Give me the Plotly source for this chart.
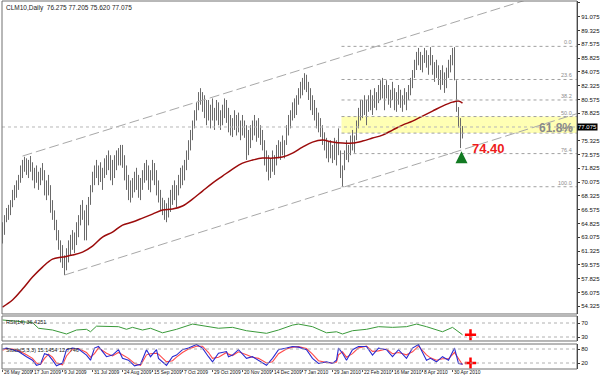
import plotly.graph_objects as go

title_text = "CLM10,Daily  76.275 77.205 75.620 77.075"

highs = [
    65.0, 65.9, 66.8, 67.2, 67.8, 69.1, 69.7, 70.3, 71.0, 72.2,
    72.9, 73.3, 73.1, 72.9, 73.4, 72.6, 71.9, 72.2, 71.4, 71.9,
    72.5, 71.6, 70.3, 71.0, 69.7, 67.8, 66.5, 65.3, 64.0, 62.7,
    62.1, 60.8, 61.7, 62.7, 63.4, 64.0, 63.7, 65.0, 65.9, 67.2,
    67.8, 66.5, 67.2, 68.2, 69.7, 71.4, 72.2, 72.9, 72.2, 72.6,
    71.9, 73.1, 73.5, 74.1, 73.5, 72.9, 73.5, 74.1, 74.4, 74.8,
    74.8, 73.5, 72.2, 71.0, 70.3, 70.6, 71.4, 71.9, 71.0, 70.6,
    71.6, 72.5, 72.9, 72.2, 71.6, 72.9, 72.5, 71.6, 70.3, 69.1,
    68.1, 67.8, 67.4, 68.1, 69.1, 69.7, 70.3, 69.7, 71.0, 71.9,
    72.2, 72.9, 74.1, 75.4, 76.7, 77.9, 79.2, 80.2, 81.5, 82.0,
    81.5, 81.1, 80.5, 80.5, 79.9, 80.7, 79.5, 80.5, 80.2, 79.2,
    79.9, 80.7, 80.5, 79.5, 78.6, 78.2, 79.2, 78.6, 78.9, 77.9,
    78.6, 77.9, 77.3, 76.7, 77.3, 77.9, 78.6, 77.9, 78.2, 77.3,
    76.7, 75.4, 74.1, 73.5, 73.1, 74.1, 73.5, 74.8, 75.4, 75.2,
    76.0, 75.4, 77.3, 78.6, 79.2, 80.2, 80.7, 81.1, 82.0, 82.8,
    83.3, 83.9, 83.7, 82.8, 82.0, 81.1, 80.5, 79.5, 78.9, 78.2,
    77.3, 76.4, 75.7, 75.2, 75.4, 74.8, 75.7, 75.4, 76.9, 74.1,
    72.2, 74.1, 75.4, 74.8, 76.0, 76.7, 76.0, 77.9, 79.5, 80.5,
    80.5, 81.1, 80.5, 81.1, 81.8, 81.1, 82.0, 81.5, 82.4, 83.0,
    83.3, 82.4, 83.0, 82.4, 81.8, 82.8, 82.0, 81.5, 82.4, 81.8,
    81.1, 82.0, 81.5, 82.4, 83.3, 84.3, 85.6, 86.6, 87.1, 86.6,
    86.2, 87.1, 86.8, 86.2, 87.2, 86.2, 85.3, 85.6, 84.9, 84.3,
    84.9, 84.0, 84.6, 85.6, 86.2, 87.1, 87.2, 83.0, 79.6, 78.2,
    77.205,
]
lows = [
    62.3, 63.4, 65.0, 65.3, 65.9, 66.9, 67.8, 68.1, 69.1, 70.0,
    70.6, 71.4, 71.0, 70.6, 71.4, 70.3, 69.3, 70.0, 69.1, 69.7,
    70.3, 68.4, 67.8, 68.4, 66.2, 65.3, 64.0, 62.7, 61.5, 59.9,
    59.2, 58.3, 58.9, 59.9, 60.8, 61.5, 61.1, 62.1, 63.1, 64.6,
    65.3, 62.7, 62.7, 64.6, 67.2, 68.8, 69.7, 70.6, 69.7, 70.1,
    69.1, 70.6, 71.0, 71.6, 70.3, 69.7, 70.6, 71.6, 72.2, 72.2,
    71.9, 70.3, 69.1, 67.8, 67.5, 68.1, 68.8, 69.1, 68.1, 67.8,
    69.1, 70.0, 70.3, 69.1, 68.8, 70.3, 69.7, 68.4, 67.5, 66.5,
    65.9, 65.3, 65.0, 65.6, 66.3, 67.2, 67.8, 66.9, 68.4, 69.3,
    69.7, 70.3, 71.6, 72.9, 74.1, 75.4, 76.9, 77.9, 79.2, 79.9,
    79.0, 78.2, 77.3, 77.9, 76.9, 77.9, 76.7, 77.9, 77.3, 76.7,
    77.3, 78.2, 77.6, 76.4, 76.0, 75.8, 76.7, 76.0, 76.4, 75.4,
    76.0, 75.7, 72.9, 73.5, 74.4, 75.4, 76.0, 75.2, 75.7, 74.8,
    74.1, 72.2, 71.4, 70.3, 70.6, 71.4, 71.0, 72.2, 73.1, 72.9,
    73.5, 73.1, 74.8, 76.0, 76.9, 77.9, 78.2, 78.6, 79.9, 80.7,
    81.1, 81.8, 81.5, 80.5, 79.2, 78.6, 77.9, 76.9, 76.4, 75.8,
    74.8, 74.1, 73.1, 72.6, 73.1, 72.5, 72.9, 72.2, 73.5, 70.6,
    69.5, 71.6, 72.9, 72.6, 73.5, 74.1, 73.8, 75.4, 76.9, 77.9,
    78.2, 78.6, 77.3, 79.0, 79.2, 78.6, 79.5, 79.2, 80.1, 80.5,
    80.7, 79.2, 80.7, 79.9, 79.5, 80.5, 79.2, 79.0, 79.9, 79.5,
    79.0, 79.9, 79.2, 80.5, 81.1, 82.0, 83.3, 84.3, 84.9, 84.3,
    84.0, 85.2, 84.6, 83.7, 84.9, 83.7, 82.8, 83.3, 82.4, 81.8,
    82.4, 81.4, 82.0, 83.3, 84.0, 84.9, 83.0, 79.0, 77.0, 74.40,
    75.62,
]

ma_idx = [0, 5, 10, 15, 20, 25, 30, 35, 40, 45, 50, 55, 60, 65, 70, 75, 80, 85,
          90, 95, 100, 105, 110, 115, 120, 125, 130, 135, 140, 145, 150, 155,
          160, 165, 170, 175, 180, 185, 190, 195, 200, 205, 210, 215, 220, 225,
          228, 230]
ma_val = [54.24, 55.13, 56.52, 58.04, 59.31, 60.32, 60.58, 60.83, 61.21, 61.97,
          63.11, 63.75, 64.64, 65.02, 65.52, 66.03, 66.54, 66.67, 67.05, 67.93,
          68.95, 69.96, 70.85, 71.74, 72.50, 72.88, 73.13, 73.13, 73.26, 73.77,
          74.53, 75.16, 75.41, 75.16, 75.03, 75.03, 75.29, 75.67, 76.05, 76.68,
          77.32, 77.82, 78.46, 79.09, 79.73, 80.23, 80.36, 80.11]

rsi_idx = [0, 8, 15, 18, 25, 32, 37, 42, 44, 47, 54, 58, 62, 65, 70, 74, 80, 87,
           95, 102, 108, 115, 122, 132, 138, 145, 148, 155, 162, 167, 170, 175,
           182, 188, 195, 202, 207, 212, 217, 220, 225, 230]
rsi_val = [78.6, 75, 71, 55, 50, 38.6, 50, 52, 45, 61, 61, 59.5, 52, 57.6, 50, 55,
           42, 52, 67, 61, 55, 57.6, 48, 40.5, 50, 64, 67, 59.5, 42, 45, 38.6, 48,
           52, 59.5, 57.6, 59.5, 67, 59.5, 50, 45, 57.6, 36.4251]

stoch_idx = [0, 2, 5, 8, 12, 15, 17, 19, 21, 23, 25, 27, 30, 32, 35, 38, 42, 44, 46,
             48, 52, 55, 58, 60, 63, 66, 69, 72, 74, 77, 78, 82, 85, 87, 90, 93, 97,
             100, 103, 105, 108, 112, 113, 115, 118, 122, 125, 128, 132, 135, 138,
             142, 145, 148, 152, 155, 158, 162, 165, 167, 168, 170, 172, 175, 178,
             182, 185, 188, 192, 195, 198, 202, 205, 208, 212, 214, 217, 220, 223,
             226, 228, 230]
stoch_k = [80, 84, 77, 69, 47, 32, 10, 15, 60, 54, 32, 8, 20, 77, 84, 80, 54, 32, 84,
           91, 47, 54, 77, 40, 32, 8, 15, 77, 47, 77, 40, 10, 47, 54, 77, 84, 99,
           84, 47, 25, 62, 69, 47, 54, 77, 40, 47, 32, 10, 40, 77,
           84, 91, 88, 77, 40, 18, 25, 18, 32, 84, 62, 32, 77, 91,
           91, 54, 84, 77, 47, 77, 40, 84, 99, 32, 40, 25, 47, 32,
           84, 18, 15.1454]
stoch_d = [75, 82, 80, 74, 55, 40, 20, 14, 40, 58, 45, 20, 12, 50, 80, 82, 65, 45, 60,
           85, 62, 50, 65, 55, 40, 18, 10, 55, 60, 62, 58, 25, 30, 45, 65, 80, 92,
           92, 65, 40, 45, 65, 58, 52, 68, 55, 45, 40, 20, 25, 60,
           80, 88, 90, 82, 58, 30, 22, 20, 24, 55, 68, 45, 60, 85,
           92, 70, 72, 80, 60, 65, 55, 68, 92, 55, 42, 32, 38, 38,
           65, 40, 12.7746]

date_idx = [0, 15, 30, 45, 60, 75, 90, 105, 120, 135, 150, 165, 180, 195, 210, 225]
date_labels = ["26 May 2009", "17 Jun 2009", "9 Jul 2009", "31 Jul 2009",
               "24 Aug 2009", "15 Sep 2009", "7 Oct 2009", "29 Oct 2009",
               "20 Nov 2009", "14 Dec 2009", "7 Jan 2010", "29 Jan 2010",
               "22 Feb 2010", "16 Mar 2010", "8 Apr 2010", "30 Apr 2010"]

price_ticks = [92.825, 91.075, 89.325, 87.575, 85.825, 84.075, 82.325, 80.575,
               78.825, 75.325, 73.575, 71.825, 70.075, 68.325, 66.575, 64.825,
               63.075, 61.325, 59.575, 57.825, 56.075, 54.325]
last_close = 77.075
low_mark = 74.40
low_mark_idx = 229
fib_high = 87.30
fib_low = 69.50
fib_start = 169.5
fib_ratios = [0.0, 23.6, 38.2, 50.0, 61.8, 76.4, 100.0]
upper_ch_x = [10, 287]
upper_ch_y = [73.39, 95.16]
lower_ch_x = [31, 287]
lower_ch_y = [58.30, 78.75]
rsi_levels = [70, 30]
stoch_levels = [80, 20]
rsi_text = "RSI(14) 36.4251"
stoch_text = "Stoch(5,3,3) 15.1454 12.7746"

X_MIN = -0.25
X_MAX = 287.25
FONT = "Liberation Sans, Arial, sans-serif"
NARROW = "Liberation Sans Narrow, Liberation Sans, Arial, sans-serif"

fig = go.Figure()

# price bars (high-low)
bx, by = [], []
for i, (h, l) in enumerate(zip(highs, lows)):
    bx += [i, i, None]
    by += [l, h, None]
fig.add_trace(go.Scatter(x=bx, y=by, mode="lines", line=dict(color="#6a6a6a", width=1),
                         hoverinfo="skip", showlegend=False))

# channel lines
for cx, cy in [(upper_ch_x, upper_ch_y), (lower_ch_x, lower_ch_y)]:
    fig.add_trace(go.Scatter(x=cx, y=cy, mode="lines",
                             line=dict(color="#a8a8a8", width=1, dash="10px,4px"),
                             showlegend=False, hoverinfo="skip"))

# moving average
fig.add_trace(go.Scatter(x=ma_idx, y=ma_val, mode="lines", line=dict(color="#9b0b0b", width=1.5),
                         showlegend=False, line_shape="spline"))

# RSI
fig.add_trace(go.Scatter(x=rsi_idx, y=rsi_val, mode="lines", yaxis="y2",
                         line=dict(color="#3a9a3a", width=1), showlegend=False))
fig.add_trace(go.Scatter(x=[rsi_idx[-1] + 4], y=[rsi_val[-1]], mode="markers", yaxis="y2",
                         marker=dict(symbol="cross-thin", size=8, line=dict(color="red", width=2.5)),
                         showlegend=False))

# Stochastic
fig.add_trace(go.Scatter(x=stoch_idx, y=stoch_d, mode="lines", yaxis="y3",
                         line=dict(color="#ff4a4a", width=1.1), showlegend=False))
fig.add_trace(go.Scatter(x=stoch_idx, y=stoch_k, mode="lines", yaxis="y3",
                         line=dict(color="#2a2ad0", width=1.1), showlegend=False))
fig.add_trace(go.Scatter(x=[stoch_idx[-1] + 4], y=[stoch_levels[1]], mode="markers", yaxis="y3",
                         marker=dict(symbol="cross-thin", size=8, line=dict(color="red", width=2.5)),
                         showlegend=False))

shapes = []
fib_levels = [fib_high - r / 100.0 * (fib_high - fib_low) for r in fib_ratios]
# yellow zone between 50% and 61.8%
shapes.append(dict(type="rect", xref="x", yref="y", x0=fib_start, x1=X_MAX,
                   y0=fib_levels[4], y1=fib_levels[3], fillcolor="#ffffb4",
                   line=dict(width=0), layer="below"))
for lv in fib_levels:
    shapes.append(dict(type="line", xref="x", yref="y", x0=fib_start, x1=X_MAX, y0=lv, y1=lv,
                       line=dict(color="#a0a0a0", width=1, dash="dot")))
# bid line
shapes.append(dict(type="line", xref="x", yref="y", x0=X_MIN, x1=X_MAX, y0=last_close, y1=last_close,
                   line=dict(color="#b8b8b8", width=1, dash="dot")))
for lv in rsi_levels:
    shapes.append(dict(type="line", xref="x", yref="y2", x0=X_MIN, x1=X_MAX, y0=lv, y1=lv,
                       line=dict(color="#b0b0b0", width=1, dash="dot")))
for lv in stoch_levels:
    shapes.append(dict(type="line", xref="x", yref="y3", x0=X_MIN, x1=X_MAX, y0=lv, y1=lv,
                       line=dict(color="#b0b0b0", width=1, dash="dot")))

dom_main = [0.1495, 1.0]
dom_rsi = [0.0761, 0.1440]
dom_sto = [0.0, 0.0679]
for d in (dom_main, dom_rsi, dom_sto):
    shapes.append(dict(type="rect", xref="paper", yref="paper", x0=0, x1=1, y0=d[0], y1=d[1],
                       line=dict(color="#707070", width=1), fillcolor="rgba(0,0,0,0)"))

annotations = []
annotations.append(dict(xref="paper", yref="paper", x=0.004, y=0.997, xanchor="left", yanchor="top",
                        text=title_text, showarrow=False, font=dict(size=6.5, color="#222", family=FONT)))
for r, lv in zip(fib_ratios, fib_levels):
    annotations.append(dict(xref="x", yref="y", x=X_MAX - 1.5, y=lv, xanchor="right", yanchor="bottom",
                            text="%.1f" % r, showarrow=False, yshift=-1,
                            font=dict(size=5.5, color="#8c8c8c", family=FONT)))
annotations.append(dict(xref="paper", yref="y", x=1.0, y=last_close, xanchor="left",
                        text=f"{last_close:.3f}", showarrow=False, bgcolor="black", borderpad=0,
                        font=dict(size=6, color="white", family=NARROW)))
annotations.append(dict(xref="x", yref="y", x=276.5, y=76.95, text="<b>61.8%</b>", showarrow=False,
                        font=dict(size=12, color="#8a8a8a", family=FONT)))
annotations.append(dict(xref="x", yref="y", x=243, y=low_mark, text="<b>%.2f</b>" % low_mark,
                        showarrow=False, font=dict(size=13, color="#ee1c1c", family=FONT)))
annotations.append(dict(xref="x", yref="y", x=low_mark_idx + 0.5, y=low_mark - 0.4, ax=0, ay=12,
                        text="", showarrow=True, arrowhead=2, arrowwidth=3, arrowsize=0.8,
                        arrowcolor="#127a22"))
annotations.append(dict(xref="paper", yref="paper", x=0.004, y=dom_rsi[1] - 0.004, xanchor="left",
                        yanchor="top", text=rsi_text, showarrow=False,
                        font=dict(size=5.5, color="#222", family=FONT)))
annotations.append(dict(xref="paper", yref="paper", x=0.004, y=dom_sto[1] - 0.004, xanchor="left",
                        yanchor="top", text=stoch_text, showarrow=False,
                        font=dict(size=5.5, color="#222", family=FONT)))
# date labels, left-aligned at their tick (MetaTrader style)
for xi, lab in zip(date_idx, date_labels):
    annotations.append(dict(xref="x", yref="paper", x=xi, y=0, xanchor="left", yanchor="top",
                            text=lab, showarrow=False, yshift=1, xshift=-1,
                            font=dict(size=4.9, color="#111", family=FONT)))

axis_font = dict(size=6, color="#111", family=NARROW)
fig.update_layout(
    width=600, height=376,
    margin=dict(l=2, r=23, t=1, b=7, autoexpand=False),
    paper_bgcolor="white", plot_bgcolor="white",
    showlegend=False,
    shapes=shapes, annotations=annotations,
    xaxis=dict(range=[X_MIN, X_MAX], anchor="y3", showgrid=False, zeroline=False,
               tickvals=date_idx, showticklabels=False, ticks="outside", ticklen=2,
               tickcolor="#555", automargin=False, showline=False),
    yaxis=dict(domain=dom_main, range=[53.362, 93.053], side="right", anchor="x",
               tickvals=price_ticks, ticktext=[f"{v:.3f}" for v in price_ticks],
               ticks="outside", ticklen=2, tickcolor="#333", tickfont=axis_font, automargin=False,
               showgrid=False, zeroline=False, showline=True, linecolor="#222", linewidth=1),
    yaxis2=dict(domain=dom_rsi, range=[18.6, 90], side="right", anchor="x",
                tickvals=rsi_levels, ticktext=[str(v) for v in rsi_levels], automargin=False,
                ticks="outside", ticklen=2, tickcolor="#333", tickfont=axis_font,
                showgrid=False, zeroline=False, showline=True, linecolor="#222", linewidth=1),
    yaxis3=dict(domain=dom_sto, range=[-5.7, 101.4], side="right", anchor="x",
                tickvals=stoch_levels, ticktext=[str(v) for v in stoch_levels], automargin=False,
                ticks="outside", ticklen=2, tickcolor="#333", tickfont=axis_font,
                showgrid=False, zeroline=False, showline=True, linecolor="#222", linewidth=1),
)

fig.write_html("out.html", config={"displayModeBar": False})

# remove default page margin so the 600x376 figure fills the window exactly
with open("out.html", "r", encoding="utf-8") as f:
    html = f.read()
html = html.replace("<head>", "<head><style>html,body{margin:0;padding:0;overflow:hidden;}</style>", 1)
with open("out.html", "w", encoding="utf-8") as f:
    f.write(html)
